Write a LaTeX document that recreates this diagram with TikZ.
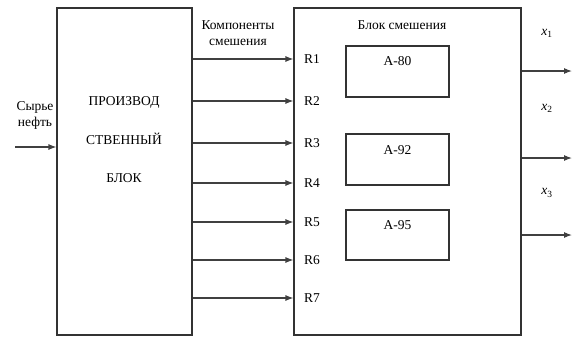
\documentclass[tikz,border=0pt]{standalone}
\usepackage{fontspec}
\setmainfont{Liberation Serif}
\usetikzlibrary{positioning, arrows.meta}
\tikzset{
  x=1pt, y=-1pt,
  >={Latex[length=8pt,width=6pt]}, % small filled arrow heads
  block/.style={draw, line width=1.1pt, draw=black!80, inner sep=0pt},
  label/.style={font=\fontsize{13.5}{15}\selectfont, inner sep=1pt},
  flow/.style={->, line width=1.1pt, draw=black!75},
}

\begin{document}
\begin{tikzpicture}
  \useasboundingbox (0,0) rectangle (573,338);
  % main blocks
  \node[block, minimum width=135pt, minimum height=327pt] (prod) at (124.5,171.5) {};
  \node[block, minimum width=227pt, minimum height=327pt] (mix) at (407.5,171.5) {};
  \node[label] at (124,102) {ПРОИЗВОД};
  \node[label] at (124,139) {СТВЕННЫЙ};
  \node[label] at (124,178) {БЛОК};
  \node[label] (mixname) at (402,25) {Блок смешения};
  % grades
  \node[block, minimum width=103pt, minimum height=51pt] (a80) at (397.5,71.5) {};
  \node[block, minimum width=103pt, minimum height=51pt] (a92) at (397.5,159.5) {};
  \node[block, minimum width=103pt, minimum height=50pt] (a95) at (397.5,235) {};
  \node[label, below=10pt of a80.north] {А-80};
  \node[label, below=11pt of a92.north] {А-92};
  \node[label, below=10pt of a95.north] {А-95};
  % input
  \node[label, align=center] (crude) at (35,115) {Сырье\\[1pt]нефть};
  \coordinate (src) at (15,147);
  \draw[flow] (src) -- (prod.west |- src);
  % components
  \node[label, align=center] (comp) at (238,33) {Компоненты\\[1pt]смешения};
  \foreach \i/\y in {1/59, 2/101, 3/143, 4/183, 5/222, 6/260, 7/298} {
    \coordinate (r\i) at (prod.east |- 0,\y);
    \draw[flow] (r\i) -- (mix.west |- r\i)
      node[label, anchor=west, xshift=9pt] {R\i};
  }
  % outputs
  \foreach \i/\y/\ly in {1/71/33, 2/158/108, 3/235/193} {
    \coordinate (x\i) at (572,\y);
    \draw[flow] (mix.east |- x\i) -- (x\i);
    \node[label] at (547,\ly) {\itshape x\textsubscript{\upshape\i}};
  }
\end{tikzpicture}
\end{document}
